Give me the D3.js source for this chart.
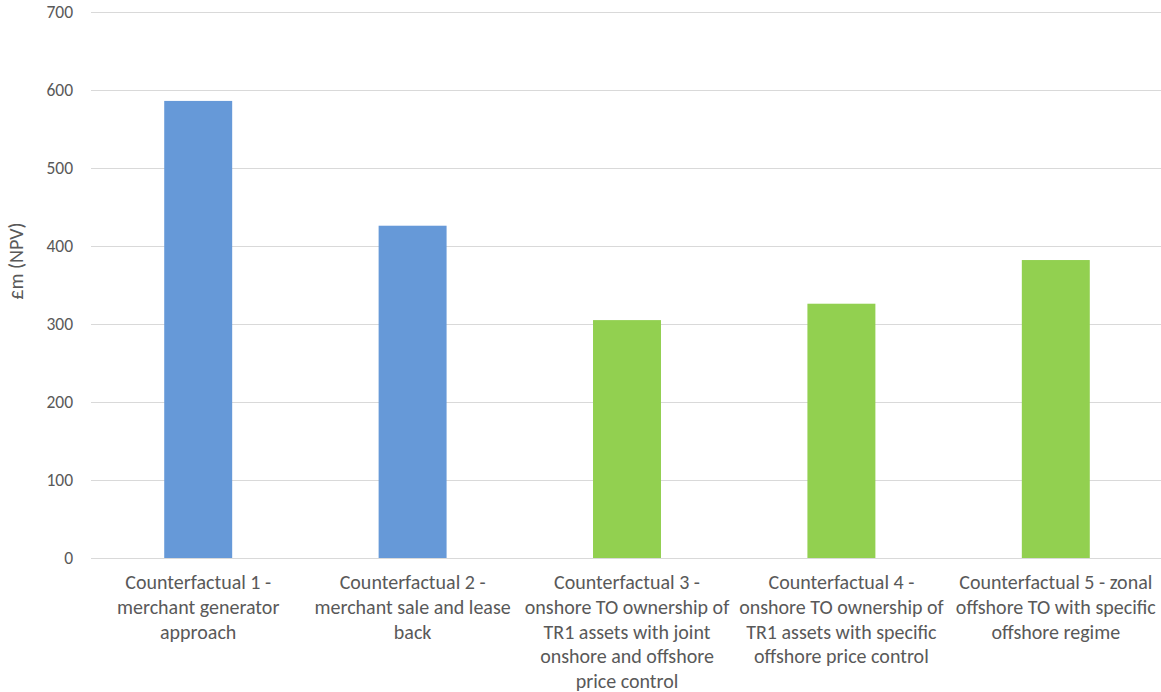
<!DOCTYPE html>
<html>
<head>
<meta charset="utf-8">
<script src="https://cdn.jsdelivr.net/npm/d3@7"></script>
<style>
  body { margin: 0; background: #fff; }
  svg text { font-family: Carlito, "Liberation Sans Narrow", "Open Sans", sans-serif; fill: #595959; }
</style>
</head>
<body>
<svg id="chart" width="1161" height="692"></svg>
<script>
// Category labels, split into the lines shown under each bar
const categories = [
  ["Counterfactual 1 -", "merchant generator", "approach"],
  ["Counterfactual 2 -", "merchant sale and lease", "back"],
  ["Counterfactual 3 -", "onshore TO ownership of", "TR1 assets with joint", "onshore and offshore", "price control"],
  ["Counterfactual 4 -", "onshore TO ownership of", "TR1 assets with specific", "offshore price control"],
  ["Counterfactual 5 - zonal", "offshore TO with specific", "offshore regime"]
];
const values = [586, 426, 305, 326, 382];
const barColors = ["#6699d8", "#6699d8", "#92d050", "#92d050", "#92d050"];
const yTicks = [0, 100, 200, 300, 400, 500, 600, 700];
const yTitle = "£m (NPV)";

const svg = d3.select("#chart");
const margin = { left: 91, right: -2, top: 12, bottom: 134 };
const W = 1161, H = 692;

const x = d3.scaleBand()
  .domain(d3.range(categories.length))
  .range([margin.left, W - margin.right])
  .paddingInner(0.683)
  .paddingOuter(0.3415);

const y = d3.scaleLinear()
  .domain([0, 700])
  .range([H - margin.bottom, margin.top]);

// Gridlines and tick labels
const yAxis = d3.axisLeft(y)
  .tickValues(yTicks)
  .tickSize(-(W - margin.right - margin.left))
  .tickPadding(18);

const gy = svg.append("g")
  .attr("transform", `translate(${margin.left},0)`)
  .call(yAxis);
gy.select(".domain").remove();
gy.selectAll(".tick line").attr("stroke", "#d9d9d9").attr("stroke-width", 1);
gy.selectAll(".tick text").style("font-size", "17.5px").attr("fill", "#595959");

// Bars
svg.append("g").selectAll("rect")
  .data(values)
  .join("rect")
  .attr("x", (d, i) => x(i))
  .attr("width", x.bandwidth())
  .attr("y", d => y(d))
  .attr("height", d => y(0) - y(d))
  .attr("fill", (d, i) => barColors[i]);

// Category labels
const labels = svg.append("g").selectAll("text")
  .data(categories)
  .join("text")
  .attr("text-anchor", "middle")
  .style("font-size", "20px")
  .attr("transform", (d, i) => `translate(${x(i) + x.bandwidth() / 2},${y(0) + 31})`);
labels.selectAll("tspan")
  .data(d => d)
  .join("tspan")
  .attr("x", 0)
  .attr("dy", (d, j) => j === 0 ? 0 : 24.8)
  .text(d => d);

// Y axis title
svg.append("text")
  .attr("transform", `translate(23,261) rotate(-90)`)
  .attr("text-anchor", "middle")
  .style("font-size", "20px")
  .text(yTitle);
</script>
</body>
</html>
